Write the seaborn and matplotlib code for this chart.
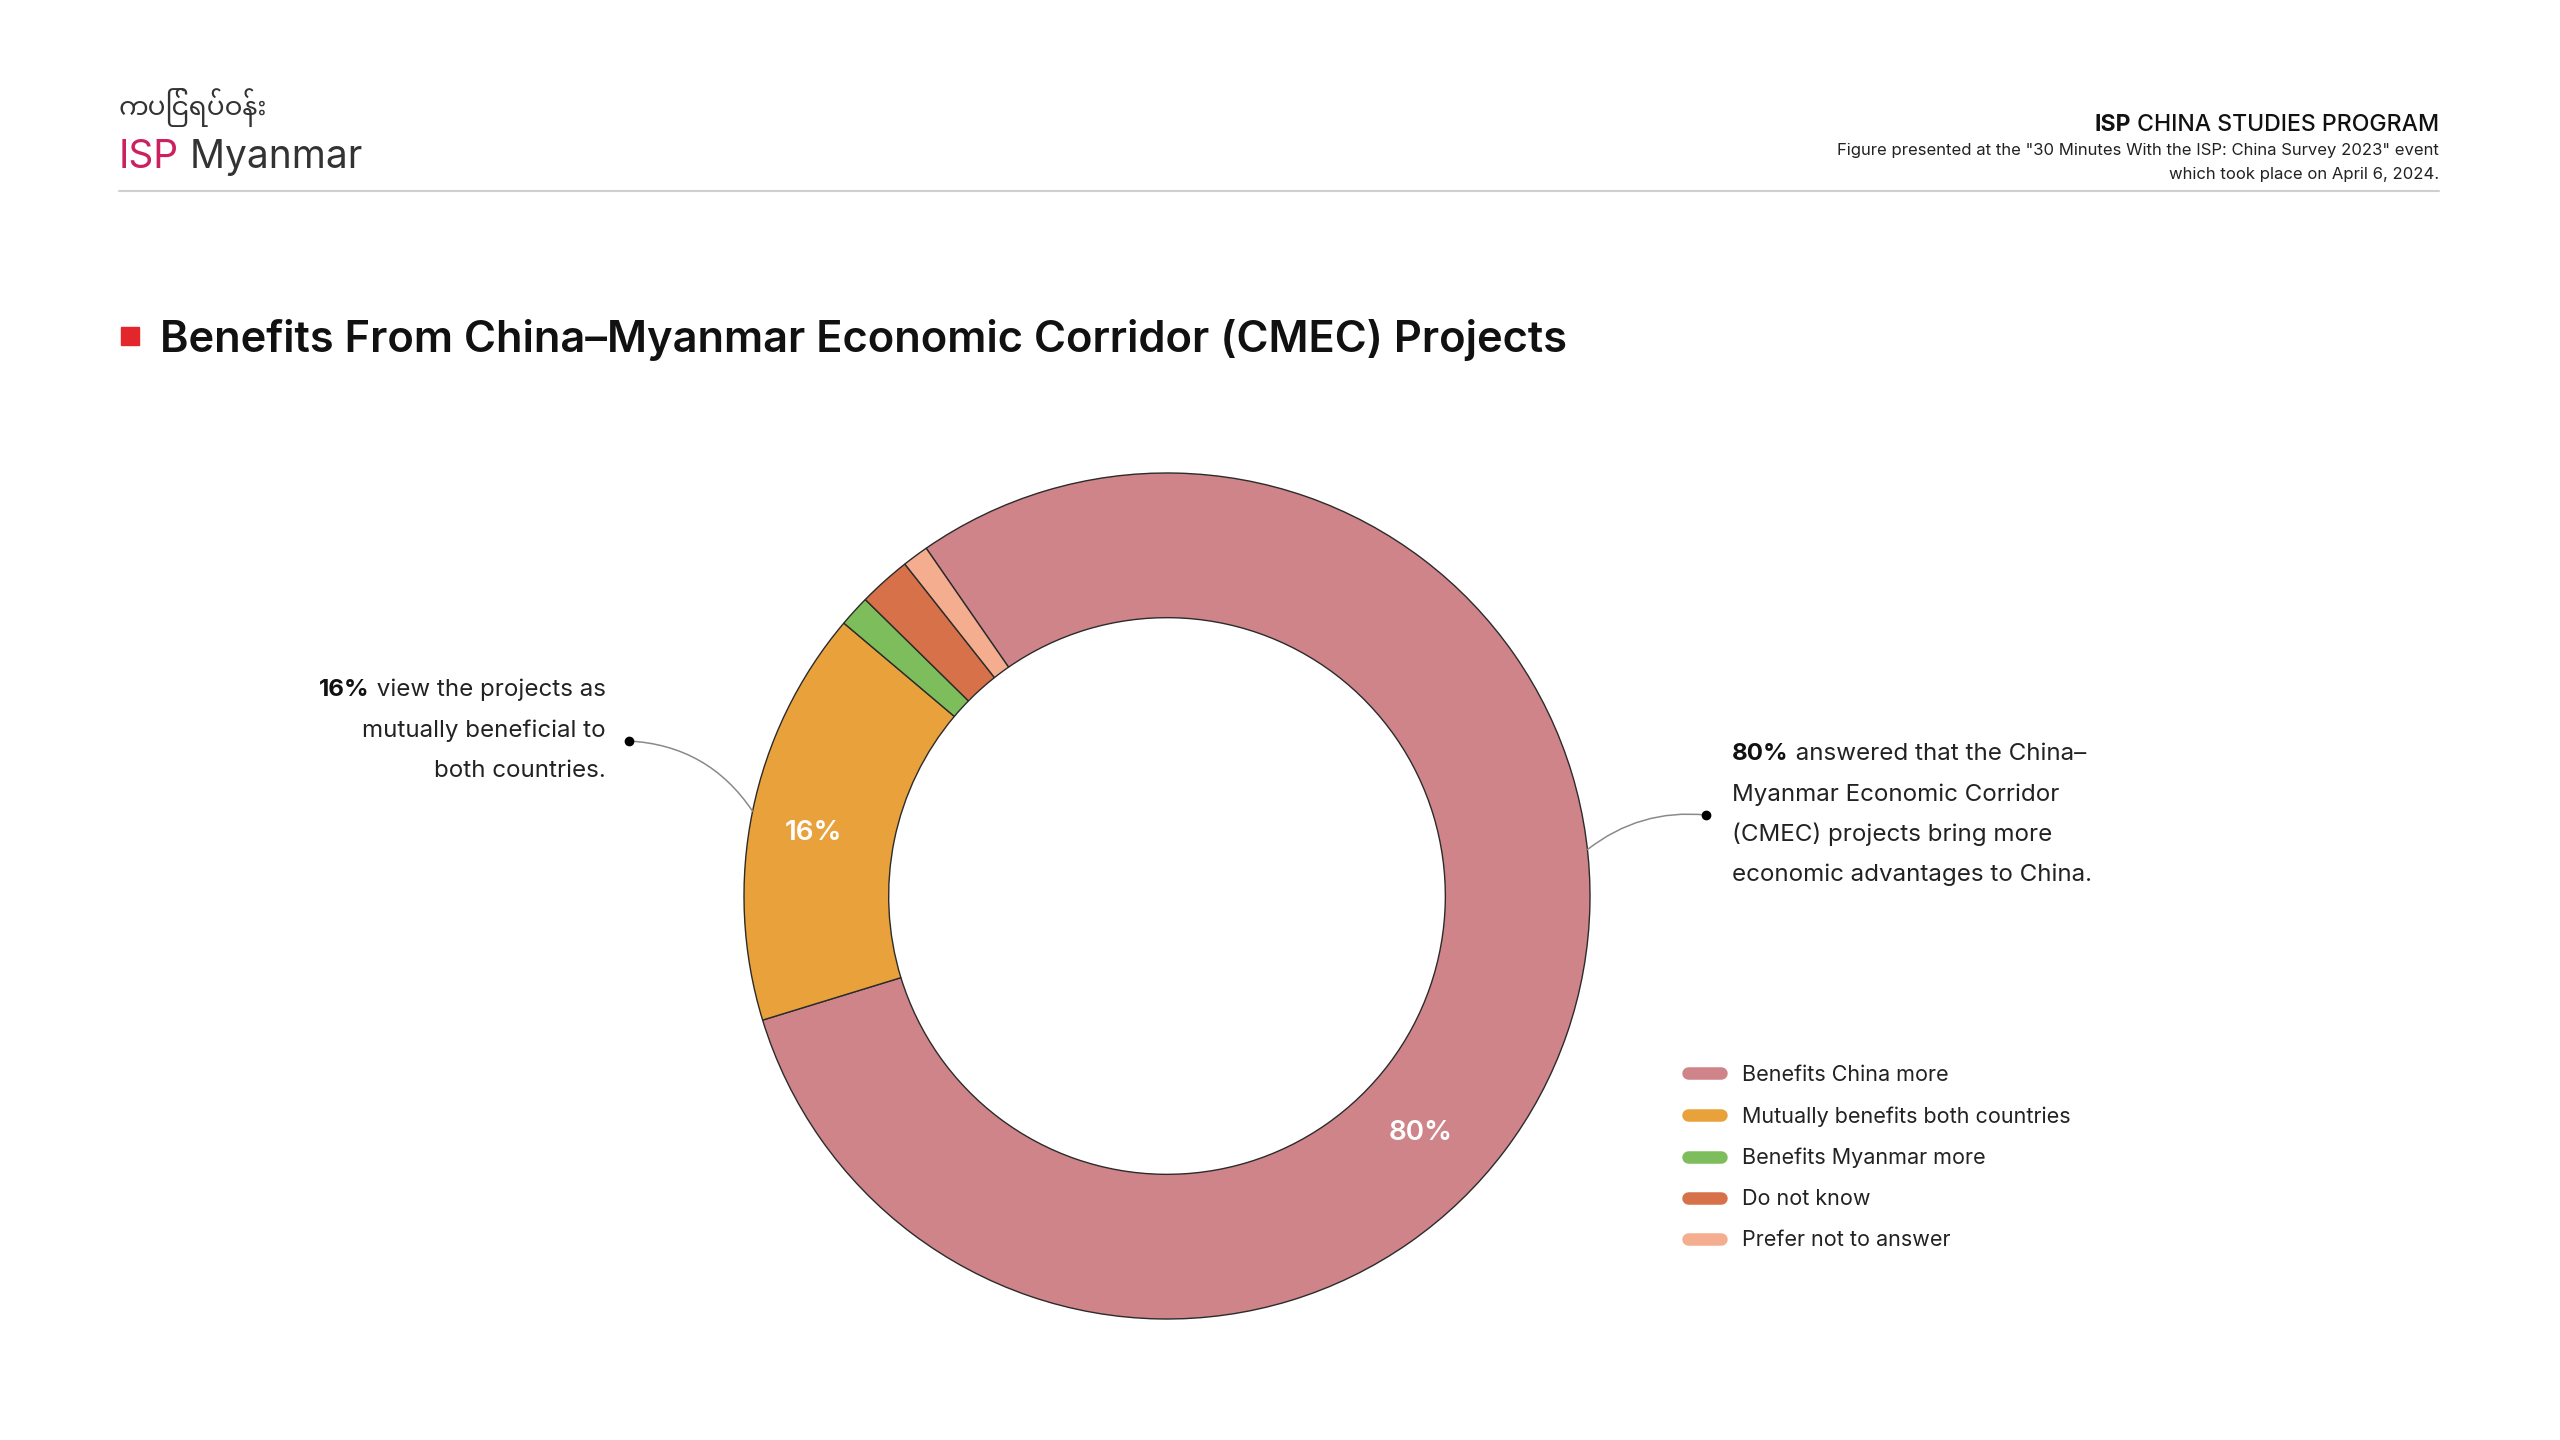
import numpy as np
import matplotlib
matplotlib.use("Agg")
import matplotlib.pyplot as plt
import seaborn as sns
from matplotlib.lines import Line2D
from matplotlib.patches import Rectangle

# data
categories = ["Benefits China more", "Mutually benefits both countries",
              "Benefits Myanmar more", "Do not know", "Prefer not to answer"]
shares = [79.9, 15.9, 1.2, 2.0, 1.0]
slice_labels = ["80%", "16%", "", "", ""]
colors = ["#CF8489", "#E9A23B", "#7DBD5B", "#D6714A", "#F5AD90"]

sns.set_theme(style="white")
plt.rcParams["font.family"] = ["Inter", "DejaVu Sans"]

W, H = 2560, 1440
fig = plt.figure(figsize=(W / 100, H / 100), dpi=100)
fig.patch.set_facecolor("white")


def fx(px):
    return px / W


def fy(py):
    return 1 - py / H


renderer = fig.canvas.get_renderer()


def width_px(t):
    return t.get_window_extent(renderer=renderer).width


# header / logo
fig.text(fx(119), fy(108), "ကပြင်ရပ်ဝန်း", fontsize=19, color="#333333",
         family=["Noto Sans Myanmar", "Padauk", "Noto Sans", "DejaVu Sans"],
         ha="left", va="center")
t_isp = fig.text(fx(119), fy(158), "ISP", fontsize=28, color="#CC2160",
                 ha="left", va="center")
fig.text(fx(119) + width_px(t_isp) / W, fy(158), " Myanmar", fontsize=28,
         color="#333333", ha="left", va="center")

fig.add_artist(Line2D([fx(119), fx(2439)], [fy(191), fy(191)],
                      color="#CFCFCF", lw=1.5))

t_prog = fig.text(fx(2439), fy(125), " CHINA STUDIES PROGRAM", fontsize=16.6,
                  color="#111111", weight="medium", ha="right", va="center")
fig.text(fx(2439) - width_px(t_prog) / W, fy(125), "ISP", fontsize=16.6,
         color="#111111", weight="bold", ha="right", va="center")
fig.text(fx(2439), fy(150),
         'Figure presented at the "30 Minutes With the ISP: China Survey 2023" event',
         fontsize=12, color="#222222", ha="right", va="center")
fig.text(fx(2439), fy(174), "which took place on April 6, 2024.",
         fontsize=12, color="#222222", ha="right", va="center")

# title
fig.add_artist(Rectangle((fx(121), fy(345)), 18 / W, 18 / H,
                         transform=fig.transFigure, color="#E3262B"))
fig.text(fx(160), fy(340),
         "Benefits From China–Myanmar Economic Corridor (CMEC) Projects",
         fontsize=31.3, weight="semibold", color="#111111", ha="left", va="center")

# donut
cx, cy, R = 1167, 896, 423
ax = fig.add_axes([fx(cx - R), fy(cy + R), 2 * R / W, 2 * R / H])
wedges, _ = ax.pie(shares, colors=colors, startangle=124.7, counterclock=False,
                   radius=1,
                   wedgeprops=dict(width=0.342, edgecolor="#2b2b2b", linewidth=1.0))
for w in wedges:
    w.set_clip_on(False)
ax.set_xlim(-1, 1)
ax.set_ylim(-1, 1)
ax.set_aspect("equal")
ax.axis("off")

# percentage labels inside the ring
label_pos = [(-43, 0.82), (None, 0.85), None, None, None]
for w, lab, pos in zip(wedges, slice_labels, label_pos):
    if not lab:
        continue
    ang, r = pos
    if ang is None:
        ang = (w.theta1 + w.theta2) / 2 + 1.5
    ax.text(r * np.cos(np.radians(ang)), r * np.sin(np.radians(ang)), lab,
            color="white", fontsize=20, weight="semibold",
            ha="center", va="center")

# callouts
orange_mid = np.radians((wedges[1].theta1 + wedges[1].theta2) / 2)
ax.annotate("", xy=(np.cos(orange_mid), np.sin(orange_mid)), xycoords="data",
            xytext=(fx(629), fy(741)), textcoords="figure fraction",
            arrowprops=dict(arrowstyle="-", color="#8a8a8a", lw=1.1,
                            shrinkA=0, shrinkB=0,
                            connectionstyle="arc3,rad=-0.25"))
edge_ang = np.radians(6.3)
ax.annotate("", xy=(np.cos(edge_ang), np.sin(edge_ang)), xycoords="data",
            xytext=(fx(1706), fy(815)), textcoords="figure fraction",
            arrowprops=dict(arrowstyle="-", color="#8a8a8a", lw=1.1,
                            shrinkA=0, shrinkB=0,
                            connectionstyle="arc3,rad=0.2"))
for px, py in [(629, 741), (1706, 815)]:
    fig.add_artist(Line2D([fx(px)], [fy(py)], marker="o", ms=6,
                          color="black", lw=0))

# left text
fs_note = 17.4
t1 = fig.text(fx(606), fy(690), " view the projects as", fontsize=fs_note,
              color="#222222", ha="right", va="center")
fig.text(fx(606) - width_px(t1) / W, fy(690), "16%", fontsize=fs_note,
         color="#111111", weight="bold", ha="right", va="center")
fig.text(fx(606), fy(731), "mutually beneficial to", fontsize=fs_note,
         color="#222222", ha="right", va="center")
fig.text(fx(606), fy(771), "both countries.", fontsize=fs_note,
         color="#222222", ha="right", va="center")

# right text
t2 = fig.text(fx(1732), fy(754), "80%", fontsize=fs_note, color="#111111",
              weight="bold", ha="left", va="center")
fig.text(fx(1732) + width_px(t2) / W, fy(754), " answered that the China–",
         fontsize=fs_note, color="#222222", ha="left", va="center")
for py, line in [(795, "Myanmar Economic Corridor"),
                 (834, "(CMEC) projects bring more"),
                 (875, "economic advantages to China.")]:
    fig.text(fx(1732), fy(py), line, fontsize=fs_note, color="#222222",
             ha="left", va="center")

# legend
handles = [Line2D([0], [0], color=c, lw=9, solid_capstyle="round") for c in colors]
fig.legend(handles, categories, loc="upper left",
           bbox_to_anchor=(fx(1688), fy(1065)), frameon=False, fontsize=15.5,
           handlelength=1.55, handletextpad=0.95, labelspacing=0.98,
           borderaxespad=0, borderpad=0, labelcolor="#222222")

fig.savefig("out.png", dpi=100, facecolor="white")
